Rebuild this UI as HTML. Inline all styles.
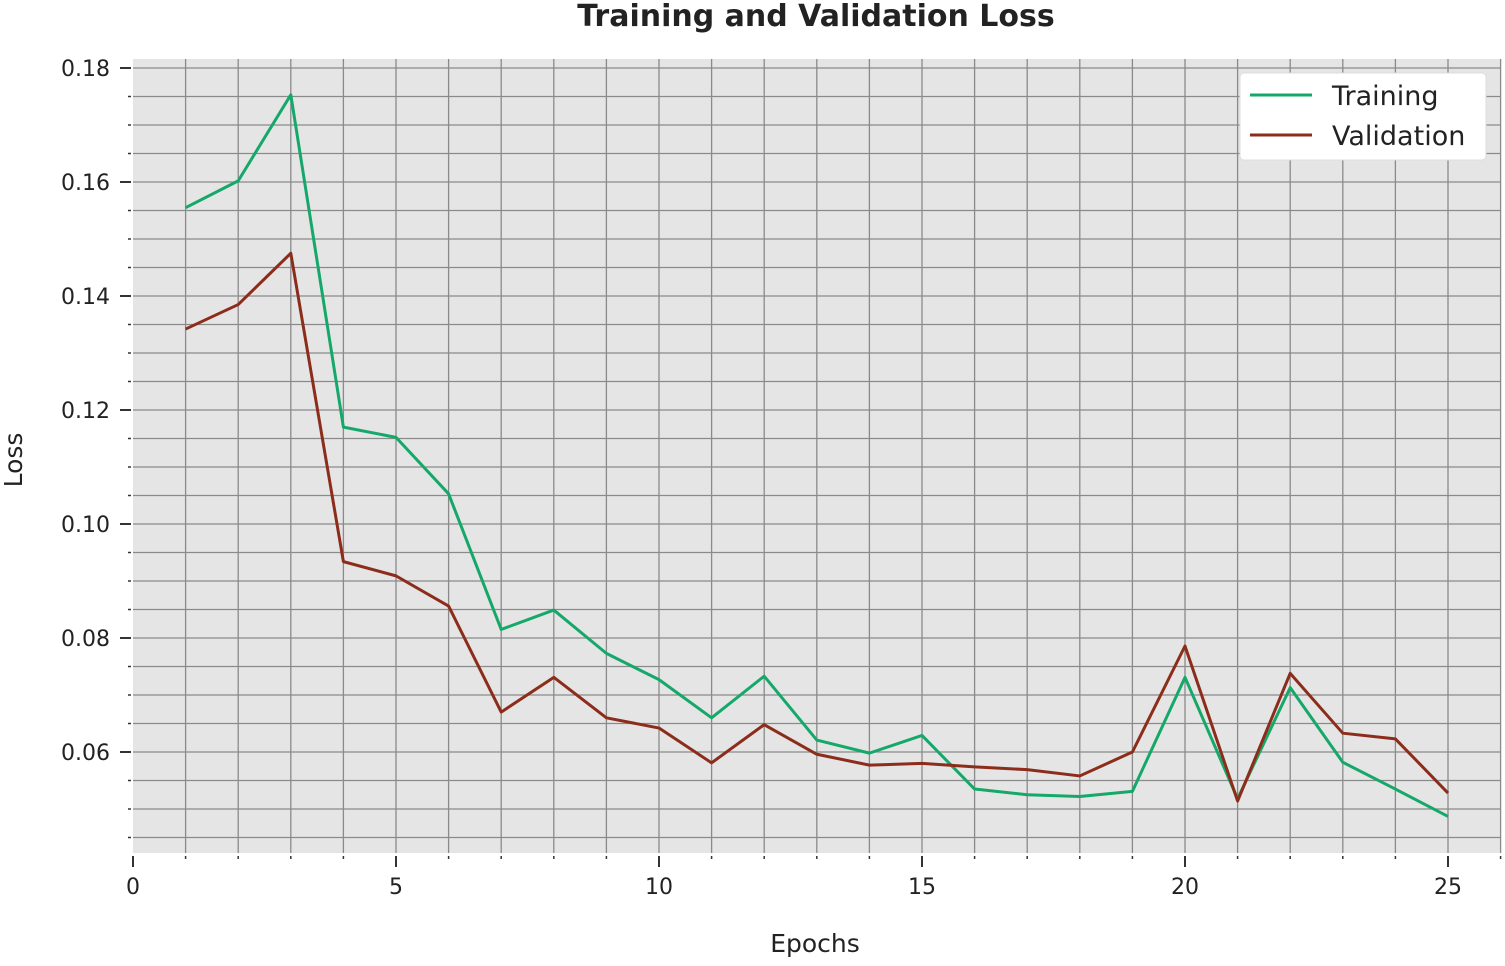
<!DOCTYPE html>
<html><head><meta charset="utf-8"><style>
body{margin:0;background:#fff;}
text{font-family:"DejaVu Sans","Liberation Sans",sans-serif;fill:#222;}
</style></head><body>
<svg width="1505" height="961" xmlns="http://www.w3.org/2000/svg">
<text x="816" y="26" text-anchor="middle" font-size="30" font-weight="bold">Training and Validation Loss</text>
<rect x="133" y="59" width="1367" height="794" fill="#e5e5e5"/>
<g id="grid"></g>
<g id="axes"></g>
<g id="series"></g>
<text x="815" y="952" text-anchor="middle" font-size="25">Epochs</text>
<text transform="translate(22,460) rotate(-90)" text-anchor="middle" font-size="25">Loss</text>
<g>
<rect x="1240" y="73" width="246" height="87" fill="#fff" stroke="#ddd" rx="4"/>
<line x1="1250" y1="95" x2="1312" y2="95" stroke="#16a86a" stroke-width="3"/>
<text x="1332" y="105" font-size="27">Training</text>
<line x1="1250" y1="135" x2="1312" y2="135" stroke="#8c2d1c" stroke-width="3"/>
<text x="1332" y="145" font-size="27">Validation</text>
</g>
</svg>
<script>
const epochs=[1,2,3,4,5,6,7,8,9,10,11,12,13,14,15,16,17,18,19,20,21,22,23,24,25];
const training=[0.1555,0.1602,0.1753,0.117,0.1152,0.1053,0.0815,0.0849,0.0773,0.0727,0.066,0.0733,0.0621,0.0598,0.0629,0.0535,0.0525,0.0522,0.0531,0.0731,0.0518,0.0713,0.0582,0.0535,0.0487];
const validation=[0.1342,0.1385,0.1475,0.0934,0.0909,0.0856,0.067,0.0731,0.066,0.0642,0.0581,0.0648,0.0596,0.0577,0.058,0.0574,0.0569,0.0558,0.06,0.0786,0.0514,0.0738,0.0633,0.0623,0.0528];
const xTicks=[0,5,10,15,20,25];
const yTicks=[0.06,0.08,0.10,0.12,0.14,0.16,0.18];
const NS="http://www.w3.org/2000/svg";
const X=v=>133+v*52.6;
const Y=v=>68+(0.18-v)*5700;
function mk(p,t,a){const e=document.createElementNS(NS,t);for(const k in a)e.setAttribute(k,a[k]);p.appendChild(e);return e;}
const grid=document.getElementById('grid'),axes=document.getElementById('axes'),series=document.getElementById('series');
for(let i=1;i<=27;i++){const l=mk(grid,'line',{x1:X(i),x2:X(i),y1:59,y2:853,stroke:'#8a8a8a','stroke-width':1.3});


const d=mk(axes,'line',{x1:X(i),x2:X(i),y1:856,y2:i%5==0?867:859,stroke:'#333','stroke-width':i%5==0?2:1.5});

}
for(let k=0;k<=27;k++){const v=0.18-k*0.005;const y=Y(v);if(y>853)break;
const l=mk(grid,'line',{x1:133,x2:1500,y1:y,y2:y,stroke:'#8a8a8a','stroke-width':1.3});


const t=mk(axes,'line',{x1:k%4==0?120:128,x2:131,y1:y,y2:y,stroke:'#333','stroke-width':k%4==0?2:1.5});

}
xTicks.forEach(v=>{const t=mk(axes,'text',{x:X(v),y:894,'text-anchor':'middle','font-size':22});t.textContent=v;

});
const t0=mk(axes,'line',{x1:X(0),x2:X(0),y1:856,y2:867,stroke:'#333','stroke-width':2});


yTicks.forEach(v=>{const t=mk(axes,'text',{x:110,y:Y(v)+8,'text-anchor':'end','font-size':22});t.textContent=v.toFixed(2);

});
function line(arr,color,name){const p=mk(series,'polyline',{points:arr.map((v,i)=>X(epochs[i])+','+Y(v)).join(' '),fill:'none',stroke:color,'stroke-width':3,'stroke-linejoin':'round'});

}
line(training,'#16a86a','training-line');
line(validation,'#8c2d1c','validation-line');
</script>
</body></html>
